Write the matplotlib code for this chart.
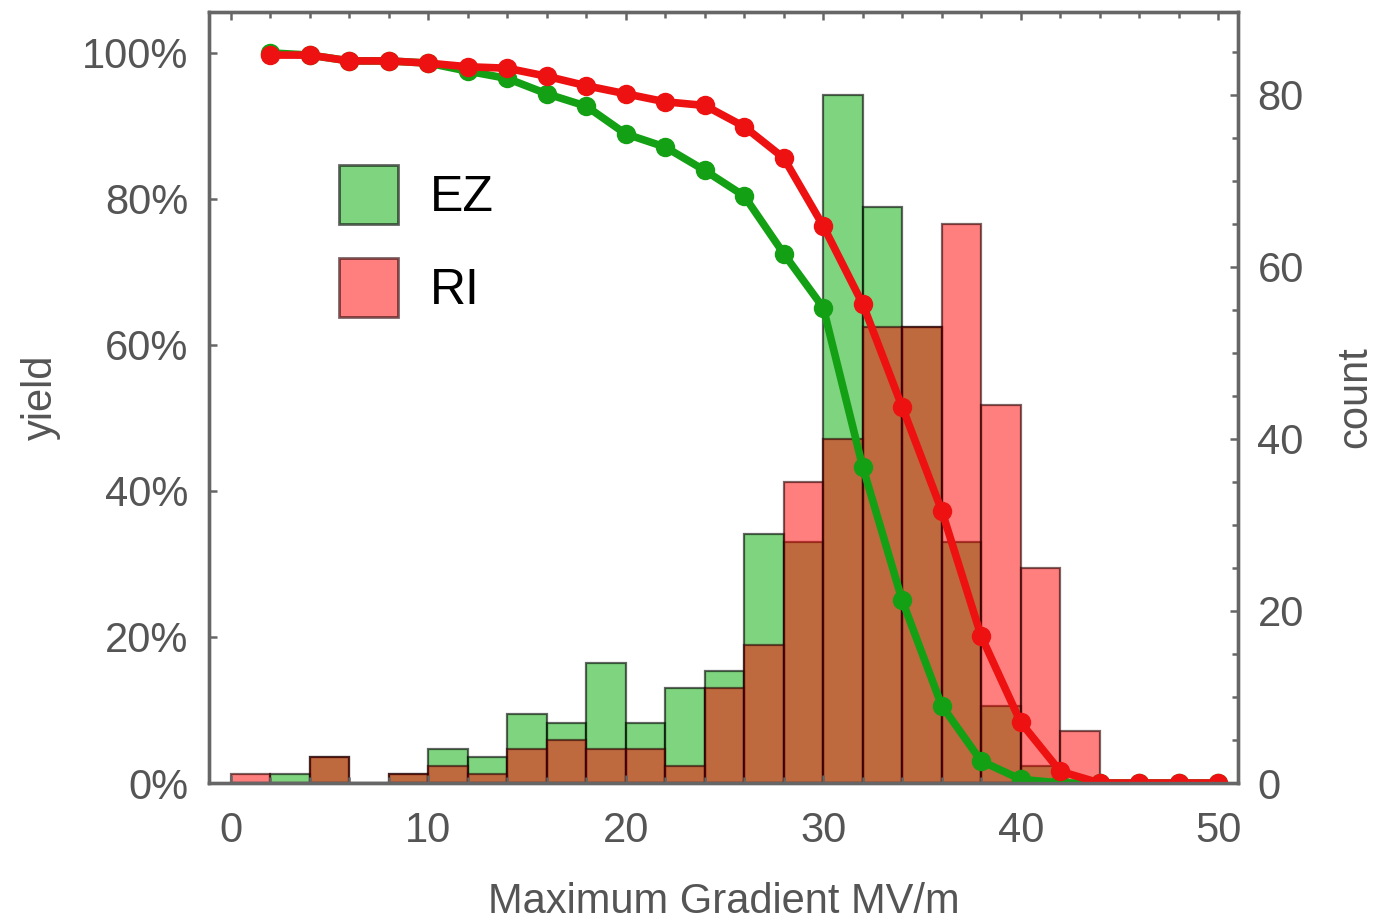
import numpy as np
import matplotlib
matplotlib.use("Agg")
import matplotlib.pyplot as plt
from matplotlib.patches import Patch
from matplotlib.ticker import PercentFormatter, MultipleLocator

plt.rcParams['font.family'] = ['Liberation Sans', 'DejaVu Sans']

# histogram bins (left edges, width 2 MV/m)
bin_left = np.arange(0, 44, 2)
ez_counts = [0, 1, 3, 0, 1, 4, 3, 8, 7, 14, 7, 11, 13, 29, 28, 80, 67, 53, 28, 9, 2, 0]
ri_counts = [1, 0, 3, 0, 1, 2, 1, 4, 5, 4, 4, 2, 11, 16, 35, 40, 53, 53, 65, 44, 25, 6]

# yield curves (fraction of cavities reaching >= gradient)
grad = np.arange(2, 52, 2)
ez_yield = [100, 99.7, 98.9, 98.9, 98.6, 97.5, 96.5, 94.4, 92.7, 88.9, 87.1, 83.9, 80.4,
            72.5, 65.1, 43.3, 25.0, 10.6, 3.0, 0.5, 0, 0, 0, 0, 0]
ri_yield = [99.7, 99.7, 98.9, 98.9, 98.6, 98.1, 97.9, 96.8, 95.5, 94.4, 93.3, 92.8, 89.9,
            85.6, 76.3, 65.6, 51.5, 37.3, 20.1, 8.3, 1.6, 0, 0, 0, 0]

GREEN = (0.0, 0.67, 0.0)
RED = (1.0, 0.0, 0.0)
FRAME = '#666666'
TXT = '#555555'

fig = plt.figure(figsize=(13.76, 9.22), dpi=100)
ax = fig.add_axes([209 / 1376, 1 - 783 / 922, 1029 / 1376, 771 / 922])
ax2 = ax.twinx()

# bars on the count axis (behind)
ax2.bar(bin_left, ez_counts, width=2, align='edge', facecolor=(*GREEN, 0.5),
        edgecolor=(0, 0, 0, 0.6), linewidth=1.6)
ax2.bar(bin_left, ri_counts, width=2, align='edge', facecolor=(*RED, 0.5),
        edgecolor=(0.15, 0, 0, 0.6), linewidth=1.6)
ax2.set_ylim(0, 89.65)

# yield curves on top
ax.set_zorder(ax2.get_zorder() + 1)
ax.patch.set_visible(False)
ax.plot(grad, np.array(ez_yield) / 100, color='#14a014', lw=5.5, marker='o', ms=13,
        solid_joinstyle='round')
ax.plot(grad, np.array(ri_yield) / 100, color='#ee1111', lw=5.5, marker='o', ms=13,
        solid_joinstyle='round')
ax.set_xlim(-1.1, 51.0)
ax.set_ylim(0, 1.056)

ax.yaxis.set_major_locator(MultipleLocator(0.2))
ax.yaxis.set_major_formatter(PercentFormatter(1.0, decimals=0))
ax.xaxis.set_major_locator(MultipleLocator(10))
ax.xaxis.set_minor_locator(MultipleLocator(2))
ax2.yaxis.set_major_locator(MultipleLocator(20))
ax2.yaxis.set_minor_locator(MultipleLocator(5))

for a in (ax, ax2):
    for s in a.spines.values():
        s.set_color(FRAME)
        s.set_linewidth(2.4)
ax.tick_params(axis='both', which='both', direction='in', color=FRAME, width=1.8,
               labelsize=30, labelcolor=TXT, top=True)
ax.tick_params(axis='both', which='major', length=6)
ax.tick_params(axis='both', which='minor', length=4)
ax.tick_params(axis='x', pad=20)
ax.tick_params(axis='y', pad=15)
ax2.tick_params(axis='y', which='both', direction='in', color=FRAME, width=1.8,
                labelsize=30, labelcolor=TXT, pad=14)
ax2.tick_params(axis='y', which='major', length=6)
ax2.tick_params(axis='y', which='minor', length=4)

ax.set_xlabel('Maximum Gradient MV/m', fontsize=30, color=TXT, va='center')
ax.xaxis.set_label_coords(0.5, -0.154)
ax.set_ylabel('yield', fontsize=30, color=TXT, va='center')
ax.yaxis.set_label_coords(-0.163, 0.5)
ax2.set_ylabel('count', fontsize=30, color=TXT, va='center', rotation=90)
ax2.yaxis.set_label_coords(1.1137, 0.5)

handles = [Patch(facecolor=(*GREEN, 0.5), edgecolor=(0, 0, 0, 0.6), linewidth=2),
           Patch(facecolor=(*RED, 0.5), edgecolor=(0.15, 0, 0, 0.6), linewidth=2)]
ax.legend(handles, ['EZ', 'RI'], loc='upper left', bbox_to_anchor=(0.1263, 0.8016),
          frameon=False, fontsize=36, handlelength=1.18, handleheight=1.44,
          handletextpad=0.64, labelspacing=0.67, borderpad=0, borderaxespad=0)

fig.savefig('out.png', dpi=100)
